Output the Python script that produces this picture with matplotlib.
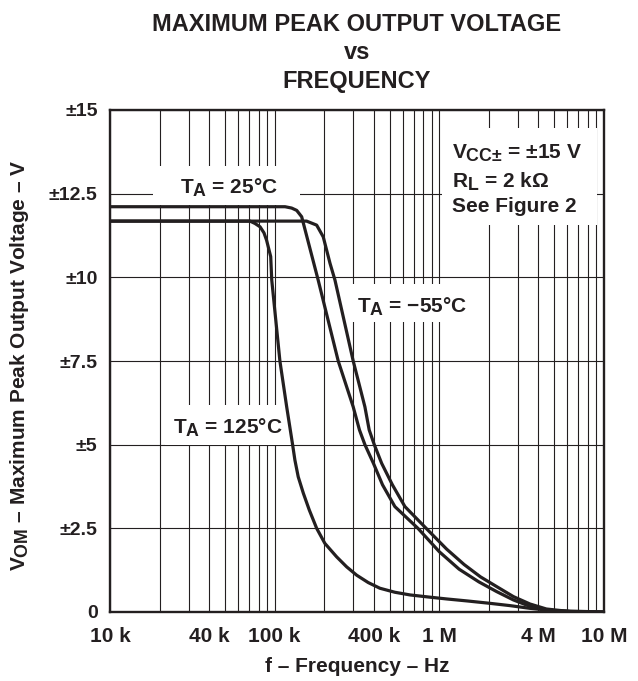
import numpy as np
import matplotlib.pyplot as plt
import matplotlib._mathtext as mathtext_mod
from matplotlib.patches import Rectangle
from matplotlib.ticker import LogLocator, NullFormatter

plt.rcParams['font.family'] = ['Liberation Sans', 'DejaVu Sans']
plt.rcParams['font.weight'] = 'bold'
plt.rcParams['mathtext.fontset'] = 'custom'
plt.rcParams['mathtext.rm'] = 'Liberation Sans:bold'
plt.rcParams['mathtext.it'] = 'Liberation Sans:bold'
plt.rcParams['mathtext.bf'] = 'Liberation Sans:bold'
# datasheet subscripts are almost full size
mathtext_mod.SHRINK_FACTOR = 0.85

# curves (frequency in Hz, voltage in V)
f_25 = [10e3, 115.6e3, 126.8e3, 136.1e3, 145.9e3, 183.7e3, 243.2e3, 299.9e3,
        327.3e3, 353.2e3, 398.1e3, 451.9e3, 537e3, 741.3e3, 1e6, 1.318e6,
        1.738e6, 2.228e6, 2.818e6, 3.548e6, 4.467e6, 6.31e6, 10e6]
v_25 = [12.11, 12.11, 12.07, 12.0, 11.81, 9.92, 7.5, 6.13,
        5.44, 5.0, 4.44, 3.8, 3.15, 2.5, 1.8, 1.28,
        0.9, 0.61, 0.36, 0.17, 0.06, 0.01, 0.0]

f_m55 = [10e3, 156.3e3, 179.9e3, 197.2e3, 216.8e3, 232.3e3, 299.9e3, 353.2e3,
         375e3, 402.7e3, 446.7e3, 518.8e3, 618e3, 831.8e3, 1.107e6, 1.413e6,
         1.778e6, 2.228e6, 2.818e6, 3.548e6, 4.467e6, 6.31e6, 10e6]
v_m55 = [11.68, 11.68, 11.56, 11.21, 10.42, 9.92, 7.5, 6.13,
         5.44, 5.0, 4.44, 3.8, 3.15, 2.5, 1.88, 1.42,
         1.05, 0.76, 0.46, 0.24, 0.09, 0.01, 0.0]

f_125 = [10e3, 70.8e3, 75.9e3, 81.5e3, 86.1e3, 89.3e3, 94.6e3, 96e3, 107.6e3,
         118.3e3, 128.5e3, 132.7e3, 139e3, 149.3e3, 162.2e3, 179.9e3, 201.8e3,
         237.7e3, 273.5e3, 314.8e3, 369.8e3, 435.5e3, 537e3, 663.7e3, 851.1e3,
         1.107e6, 1.479e6, 2.023e6, 2.692e6, 3.548e6, 4.898e6, 10e6]
v_125 = [11.68, 11.68, 11.61, 11.51, 11.33, 11.11, 10.62, 9.92, 7.5,
         6.13, 5.0, 4.54, 4.04, 3.55, 3.05, 2.5, 2.05,
         1.65, 1.35, 1.1, 0.88, 0.71, 0.59, 0.51, 0.45,
         0.39, 0.33, 0.26, 0.19, 0.11, 0.04, 0.0]

xticks = [1e4, 4e4, 1e5, 4e5, 1e6, 4e6, 1e7]
xlabels = ['10 k', '40 k', '100 k', '400 k', '1 M', '4 M', '10 M']
yticks = [0, 2.5, 5, 7.5, 10, 12.5, 15]
ylabels = ['0', '±2.5', '±5', '±7.5', '±10', '±12.5', '±15']

ink = '#231f20'
fs = 15

fig = plt.figure(figsize=(6.38, 6.81), dpi=100)
ax = fig.add_axes([110/638, 1 - 612/681, 494/638, 502/681])

ax.set_xscale('log')
ax.set_xlim(1e4, 1e7)
ax.set_ylim(0, 15)
ax.set_xticks(xticks)
ax.set_xticklabels(xlabels)
ax.xaxis.set_minor_locator(LogLocator(base=10, subs=range(2, 10)))
ax.xaxis.set_minor_formatter(NullFormatter())
ax.set_yticks(yticks)
ax.set_yticklabels(ylabels)
ax.tick_params(which='both', length=0, colors=ink)
ax.tick_params(axis='y', pad=9, labelsize=14)
ax.tick_params(axis='x', pad=10.5, labelsize=15)

ax.grid(which='both', axis='x', color=ink, lw=0.8, zorder=1)
ax.grid(which='major', axis='y', color=ink, lw=0.8, zorder=1)
for s in ax.spines.values():
    s.set_linewidth(1.7)
    s.set_color(ink)

# white boxes behind the labels (axes fraction)
boxes = [(0.087, 0.811, 0.298, 0.077),
         (0.488, 0.578, 0.241, 0.075),
         (0.111, 0.333, 0.253, 0.079),
         (0.673, 0.771, 0.313, 0.193)]
for bx, by, bw, bh in boxes:
    ax.add_patch(Rectangle((bx, by), bw, bh, transform=ax.transAxes,
                           facecolor='white', edgecolor='none', zorder=2))

for f, v in [(f_25, v_25), (f_m55, v_m55), (f_125, v_125)]:
    ax.plot(f, v, color=ink, lw=2.3, zorder=3, solid_joinstyle='round')

ax.text(0.240, 0.845, r'$T_A$ = 25°C', transform=ax.transAxes, ha='center',
        va='center', fontsize=fs, color=ink, zorder=4)
ax.text(0.612, 0.608, r'$T_A$ = −55°C', transform=ax.transAxes, ha='center',
        va='center', fontsize=fs, color=ink, zorder=4)
ax.text(0.239, 0.367, r'$T_A$ = 125°C', transform=ax.transAxes, ha='center',
        va='center', fontsize=fs, color=ink, zorder=4)
ax.text(0.693, 0.914, r'$V_{CC±}$ = ±15 V', transform=ax.transAxes, ha='left',
        va='center', fontsize=fs, color=ink, zorder=4)
ax.text(0.693, 0.857, r'$R_L$ = 2 kΩ', transform=ax.transAxes, ha='left',
        va='center', fontsize=fs, color=ink, zorder=4)
ax.text(0.693, 0.807, 'See Figure 2', transform=ax.transAxes, ha='left',
        va='center', fontsize=fs, color=ink, zorder=4)

ax.set_title('MAXIMUM PEAK OUTPUT VOLTAGE\nvs\nFREQUENCY', fontsize=17,
             fontweight='bold', color=ink, pad=16, linespacing=1.3)
fig.text(357/638, 1 - 667/681, 'f – Frequency – Hz', ha='center', va='center',
         fontsize=15, color=ink)
fig.text(20/638, 1 - 365/681, r'$V_{OM}$ – Maximum Peak Output Voltage – V',
         rotation=90, ha='center', va='center', fontsize=15, color=ink)

fig.savefig('out.png', dpi=100)
